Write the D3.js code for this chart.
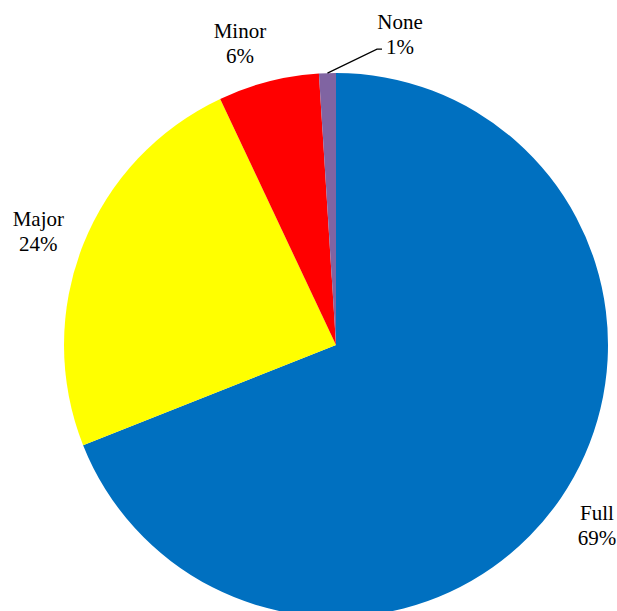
<!DOCTYPE html>
<html>
<head>
<meta charset="utf-8">
<script src="https://cdn.jsdelivr.net/npm/d3@7"></script>
<style>
  html, body { margin: 0; padding: 0; background: #fff; }
  svg { display: block; }
</style>
</head>
<body>
<div id="chart"></div>
<script>
const categories = ['Full', 'Major', 'Minor', 'None'];
const values = [69, 24, 6, 1];
const colors = ['#0070C0', '#FFFF00', '#FF0000', '#8064A2'];

const width = 617;
const height = 611;
const cx = 336;
const cy = 345;
const radius = 272;
const labelRadius = 318;

// small nudges so labels sit where the original put them
const labelNudge = {
  Full: [-2, 1],
  Major: [-2, 3],
  Minor: [-17, 6],
  None: [74, 7]
};

const data = categories.map((name, i) => ({ name, value: values[i], color: colors[i] }));
const total = d3.sum(values);

const svg = d3.select('#chart').append('svg')
  .attr('width', width)
  .attr('height', height);

const plot = svg.append('g')
  .attr('transform', `translate(${cx}, ${cy})`);

const pie = d3.pie()
  .sort(null)
  .value(d => d.value);

const arcs = pie(data);

const arc = d3.arc()
  .innerRadius(0)
  .outerRadius(radius);

const arcLabel = d3.arc()
  .innerRadius(labelRadius)
  .outerRadius(labelRadius);

const arcEdge = d3.arc()
  .innerRadius(radius)
  .outerRadius(radius);

plot.selectAll('path')
  .data(arcs)
  .enter()
  .append('path')
  .attr('fill', d => d.data.color)
  .attr('d', arc);

const labelPos = d => {
  const c = arcLabel.centroid(d);
  const n = labelNudge[d.data.name] || [0, 0];
  return [c[0] + n[0], c[1] + n[1]];
};

// leader line for the tiny slice
const tiny = arcs.filter(d => d.data.name === 'None');
plot.selectAll('polyline')
  .data(tiny)
  .enter()
  .append('polyline')
  .attr('fill', 'none')
  .attr('stroke', '#000')
  .attr('stroke-width', 1.2)
  .attr('points', d => {
    const a = arcEdge.centroid(d);
    const p = labelPos(d);
    const ex = p[0] - 18, ey = p[1] + 15;
    return [a, [ex - 5, ey], [ex, ey]].map(q => q.join(',')).join(' ');
  });

const labels = plot.selectAll('text')
  .data(arcs)
  .enter()
  .append('text')
  .style('text-anchor', 'middle')
  .style('font-family', '"Liberation Serif", "Times New Roman", "DejaVu Serif", serif')
  .style('font-size', '21px')
  .attr('fill', '#000')
  .attr('transform', d => `translate(${labelPos(d)})`);

labels.append('tspan')
  .attr('x', 0)
  .attr('y', -5)
  .text(d => d.data.name);

labels.append('tspan')
  .attr('x', 0)
  .attr('y', 20)
  .text(d => `${Math.round(d.data.value / total * 100)}%`);
</script>
</body>
</html>
